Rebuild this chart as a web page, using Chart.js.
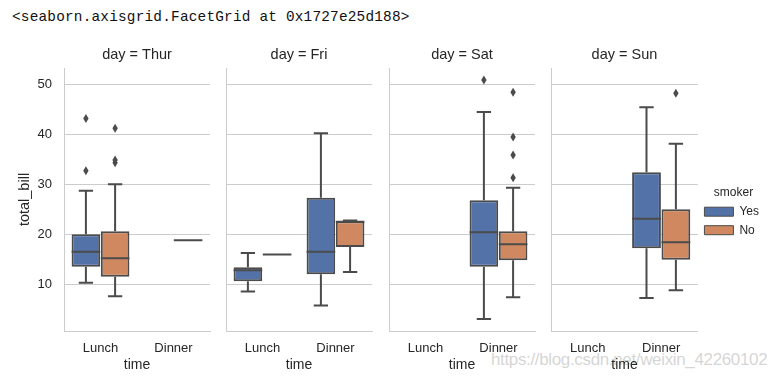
<!DOCTYPE html>
<html><head><meta charset="utf-8">
<script src="https://cdn.jsdelivr.net/npm/chart.js@4.4.0/dist/chart.umd.min.js"></script>
<style>
html,body{margin:0;padding:0;background:#fff;}
body{width:776px;height:379px;overflow:hidden;position:relative;}
canvas{position:absolute;top:0;z-index:2;}
#hdr{position:absolute;left:12px;top:7px;font:14.4px "Liberation Mono","DejaVu Sans Mono",monospace;letter-spacing:0.2px;color:#111;white-space:pre;line-height:20px;}
#wm{position:absolute;z-index:1;left:491px;top:350px;font:17px "Liberation Sans",Arial,sans-serif;letter-spacing:-0.35px;color:rgba(185,185,185,0.6);white-space:nowrap;line-height:20px;}
</style></head><body>
<div id="hdr">&lt;seaborn.axisgrid.FacetGrid at 0x1727e25d188&gt;</div>
<div id="wm">https://blog.csdn.net/weixin_42260102</div>
<canvas id="c0" width="215" height="379" style="left:0px"></canvas>
<canvas id="c1" width="162" height="379" style="left:216px"></canvas>
<canvas id="c2" width="162" height="379" style="left:379px"></canvas>
<canvas id="c3" width="235" height="379" style="left:541px"></canvas>
<script>
// ---- data ----
const days = ['Thur', 'Fri', 'Sat', 'Sun'];
const times = ['Lunch', 'Dinner'];
const smokers = ['Yes', 'No'];
const yTicks = [10, 20, 30, 40, 50];
const yRange = [0.683, 53.197];

// [low whisker, Q1, median, Q3, high whisker] for [Lunch, Dinner]
const thurYes = [[10.34, 13.5, 16.5, 20.0, 28.7], null];
const thurNo  = [[7.6, 11.5, 15.2, 20.6, 30.0], [18.78, 18.78, 18.78, 18.78, 18.78]];
const friYes  = [[8.58, 10.6, 12.79, 13.42, 16.27], [5.75, 12.0, 16.5, 27.3, 40.17]];
const friNo   = [[15.98, 15.98, 15.98, 15.98, 15.98], [12.46, 17.48, 22.49, 22.62, 22.75]];
const satYes  = [null, [3.07, 13.5, 20.4, 26.8, 44.4]];
const satNo   = [null, [7.4, 14.8, 18.0, 20.6, 29.3]];
const sunYes  = [null, [7.25, 17.2, 23.1, 32.4, 45.35]];
const sunNo   = [null, [8.8, 14.9, 18.4, 25.0, 38.07]];

// outliers for [Lunch, Dinner]
const thurYesOut = [[43.11, 32.68], []];
const thurNoOut  = [[41.19, 34.83, 34.3], []];
const friYesOut  = [[], []];
const friNoOut   = [[], []];
const satYesOut  = [[], [50.81]];
const satNoOut   = [[], [48.33, 39.42, 35.83, 31.3]];
const sunYesOut  = [[], []];
const sunNoOut   = [[], [48.17]];

const statsYes = [thurYes, friYes, satYes, sunYes];
const statsNo = [thurNo, friNo, satNo, sunNo];
const outYes = [thurYesOut, friYesOut, satYesOut, sunYesOut];
const outNo = [thurNoOut, friNoOut, satNoOut, sunNoOut];

// ---- styles / layout ----
const colYes = '#5372a7', colNo = '#cf8860', gray = '#4b4b4b';
const textCol = '#262626', gridCol = '#cccccc';
const plotW = 146;
const panels = [
  {left: 0, width: 215, plotLeft: 64},
  {left: 216, width: 162, plotLeft: 226},
  {left: 379, width: 162, plotLeft: 389},
  {left: 541, width: 235, plotLeft: 551}
];
const legendW = 72;

Chart.defaults.font.family = '"Liberation Sans", Arial, sans-serif';
Chart.defaults.color = textCol;

const boxPlugin = {
  id: 'boxWhiskers',
  afterDatasetsDraw(chart) {
    const ctx = chart.ctx, ys = chart.scales.y;
    const px = v => ys.getPixelForValue(v);
    chart.data.datasets.forEach((ds, di) => {
      const meta = chart.getDatasetMeta(di);
      ds.stats.forEach((s, j) => {
        if (!s) return;
        const el = meta.data[j];
        const {x, width} = el.getProps(['x', 'width'], true);
        const [lo, q1, med, q3, hi] = s;
        const cw = width / 4;
        ctx.save();
        ctx.strokeStyle = gray;
        ctx.lineWidth = 2;
        ctx.beginPath();
        ctx.moveTo(x, px(q3)); ctx.lineTo(x, px(hi));
        ctx.moveTo(x, px(q1)); ctx.lineTo(x, px(lo));
        ctx.moveTo(x - cw, px(hi)); ctx.lineTo(x + cw, px(hi));
        ctx.moveTo(x - cw, px(lo)); ctx.lineTo(x + cw, px(lo));
        ctx.moveTo(x - width / 2, px(med)); ctx.lineTo(x + width / 2, px(med));
        ctx.stroke();
        ctx.fillStyle = gray;
        (ds.outliers[j] || []).forEach(v => {
          const py = px(v);
          ctx.beginPath();
          ctx.moveTo(x, py - 4.5);
          ctx.lineTo(x + 2.7, py);
          ctx.lineTo(x, py + 4.5);
          ctx.lineTo(x - 2.7, py);
          ctx.closePath();
          ctx.fill();
        });
        ctx.restore();
      });
    });
  }
};

function makeDataset(label, stats, outs, color) {
  return {
    label, stats, outliers: outs,
    data: stats.map(s => s ? [s[1], s[3]] : null),
    backgroundColor: color, borderColor: gray, borderWidth: 2, borderSkipped: false
  };
}

function makeChart(i) {
  const p = panels[i];
  const first = i === 0, last = i === 3;
  const padL = p.plotLeft - p.left - (first ? 64 : 0);
  const padR = last ? (p.left + p.width) - (p.plotLeft + plotW) - legendW
                    : (p.left + p.width) - (p.plotLeft + plotW);
  return new Chart(document.getElementById('c' + i), {
    type: 'bar',
    data: {
      labels: times,
      datasets: [
        makeDataset(smokers[0], statsYes[i], outYes[i], colYes),
        makeDataset(smokers[1], statsNo[i], outNo[i], colNo)
      ]
    },
    options: {
      responsive: false, animation: false, devicePixelRatio: 1,
      layout: {padding: {left: padL, right: padR, top: 0, bottom: 0}},
      datasets: {bar: {categoryPercentage: 0.8, barPercentage: 0.98}},
      scales: {
        x: {
          grid: {display: false, drawTicks: false},
          border: {display: true, color: gridCol, width: 1},
          ticks: {padding: 9.2, color: textCol, font: {size: 13}},
          title: {display: true, text: 'time', color: textCol, font: {size: 14}, padding: {top: 0, bottom: 5.1}},
          afterFit: s => { s.height = 48; }
        },
        y: {
          min: yRange[0], max: yRange[1],
          afterBuildTicks: s => { s.ticks = yTicks.map(v => ({value: v})); },
          grid: {color: gridCol, lineWidth: 1, drawTicks: false},
          border: {display: true, color: gridCol, width: 1},
          ticks: {display: first, padding: 12, color: textCol, font: {size: 13}},
          title: {display: first, text: 'total_bill', color: textCol, font: {size: 14.5}, padding: {top: 16.3, bottom: 0}},
          afterFit: s => { s.width = first ? 64 : 0; }
        }
      },
      plugins: {
        tooltip: {enabled: false},
        title: {
          display: true, text: 'day = ' + days[i], fullSize: false,
          color: textCol, font: {size: 14.5, weight: 'normal'},
          padding: {top: 46.3, bottom: 4.3}
        },
        legend: last ? {
          display: true, position: 'right', align: 'center', fullSize: false, maxWidth: legendW,
          title: {display: true, text: 'smoker', color: textCol, font: {size: 12}, padding: {top: 30.4, bottom: -1.9}},
          labels: {
            boxWidth: 29, boxHeight: 9, padding: 6.5, color: textCol, font: {size: 12},
            generateLabels: chart => Chart.defaults.plugins.legend.labels.generateLabels(chart)
              .map(l => Object.assign(l, {lineWidth: 1}))
          }
        } : {display: false}
      }
    },
    plugins: [boxPlugin]
  });
}

for (let i = 0; i < 4; i++) makeChart(i);
</script>
</body></html>
